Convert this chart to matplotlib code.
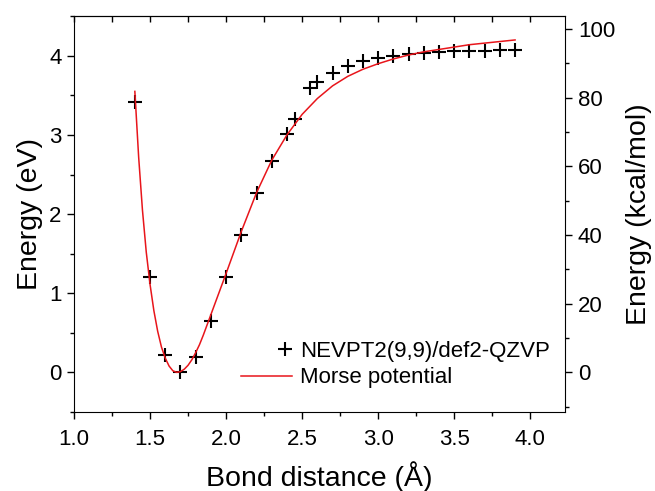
import matplotlib
matplotlib.use('Agg')
import matplotlib.pyplot as plt
from matplotlib.ticker import MultipleLocator
from matplotlib.legend_handler import HandlerLine2D

plt.rcParams['font.family'] = ['Liberation Sans', 'DejaVu Sans']

# NEVPT2(9,9)/def2-QZVP points (bond distance in A, energy in eV)
r_calc = [1.40, 1.50, 1.60, 1.70, 1.80, 1.90, 2.00, 2.10, 2.20, 2.30, 2.40, 2.45,
          2.55, 2.60, 2.70, 2.80, 2.90, 3.00, 3.10, 3.20, 3.30, 3.40, 3.50, 3.60,
          3.70, 3.80, 3.90]
e_calc = [3.42, 1.21, 0.22, 0.00, 0.20, 0.65, 1.20, 1.74, 2.26, 2.67, 3.01, 3.20,
          3.59, 3.67, 3.78, 3.87, 3.93, 3.97, 4.00, 4.02, 4.03, 4.05, 4.055, 4.06,
          4.065, 4.07, 4.075]

# Morse potential curve
r_morse = [1.400, 1.425, 1.450, 1.475, 1.500, 1.525, 1.550, 1.575, 1.600, 1.625,
           1.650, 1.675, 1.700, 1.725, 1.750, 1.775, 1.800, 1.825, 1.850, 1.875,
           1.900, 1.925, 1.950, 1.975, 2.000, 2.100, 2.200, 2.300, 2.400, 2.500,
           2.600, 2.700, 2.800, 2.900, 3.000, 3.100, 3.200, 3.300, 3.400, 3.500,
           3.600, 3.700, 3.800, 3.900]
e_morse = [3.55, 2.72, 2.05, 1.52, 1.11, 0.78, 0.52, 0.32, 0.18, 0.08,
           0.02, 0.00, 0.01, 0.04, 0.09, 0.16, 0.25, 0.35, 0.47, 0.60,
           0.73, 0.86, 0.99, 1.12, 1.25, 1.78, 2.27, 2.68, 3.00, 3.26,
           3.46, 3.62, 3.74, 3.83, 3.90, 3.96, 4.01, 4.05, 4.08, 4.11,
           4.14, 4.16, 4.18, 4.20]

EV_TO_KCAL = 23.0605


class MarkerRight(HandlerLine2D):
    # put the legend marker next to the text, like the original
    def get_xdata(self, legend, xdescent, ydescent, width, height, fontsize):
        p = -xdescent + width - 0.3 * fontsize
        return [p, p], [p]


fig = plt.figure(figsize=(6.55, 4.91), dpi=100)
ax = fig.add_axes([0.113, 0.161, 0.750, 0.806])

pts, = ax.plot(r_calc, e_calc, linestyle='none', marker='+', markersize=10,
               markeredgewidth=1.5, color='black', label='NEVPT2(9,9)/def2-QZVP')
ax.plot(r_morse, e_morse, color='#e8151b', linewidth=1.1, label='Morse potential')

ax.set_xlim(1.0, 4.23)
ax.set_ylim(-0.5, 4.5)
ax.xaxis.set_major_locator(MultipleLocator(0.5))
ax.xaxis.set_minor_locator(MultipleLocator(0.25))
ax.yaxis.set_major_locator(MultipleLocator(1))
ax.yaxis.set_minor_locator(MultipleLocator(0.5))
ax.tick_params(which='major', direction='out', length=5, width=1, labelsize=16, pad=4)
ax.tick_params(which='minor', direction='out', length=3, width=1)
ax.tick_params(axis='x', which='major', pad=7)
ax.spines['right'].set_visible(False)

top = ax.secondary_xaxis('top')
top.xaxis.set_major_locator(MultipleLocator(0.5))
top.xaxis.set_minor_locator(MultipleLocator(0.25))
top.tick_params(which='both', direction='in', length=4, width=1, labeltop=False)

ax2 = ax.twinx()
ax2.set_ylim(-0.5 * EV_TO_KCAL, 4.5 * EV_TO_KCAL)
ax2.yaxis.set_major_locator(MultipleLocator(20))
ax2.yaxis.set_minor_locator(MultipleLocator(10))
ax2.tick_params(which='major', direction='out', length=5, width=1, labelsize=16, pad=4)
ax2.tick_params(which='minor', direction='out', length=3, width=1)
for sp in ['left', 'top', 'bottom']:
    ax2.spines[sp].set_visible(False)

ax.set_xlabel('Bond distance (Å)', fontsize=20.5, labelpad=8)
ax.set_ylabel('Energy (eV)', fontsize=20.5, labelpad=4)
ax2.set_ylabel('Energy (kcal/mol)', fontsize=20.5, labelpad=8)

ax.legend(loc='lower right', frameon=False, fontsize=16, handlelength=2.3,
          handletextpad=0.35, labelspacing=0.25, borderaxespad=0.3,
          bbox_to_anchor=(1.0, 0.02), handler_map={pts: MarkerRight(numpoints=1)})

fig.savefig('out.png', dpi=100)
